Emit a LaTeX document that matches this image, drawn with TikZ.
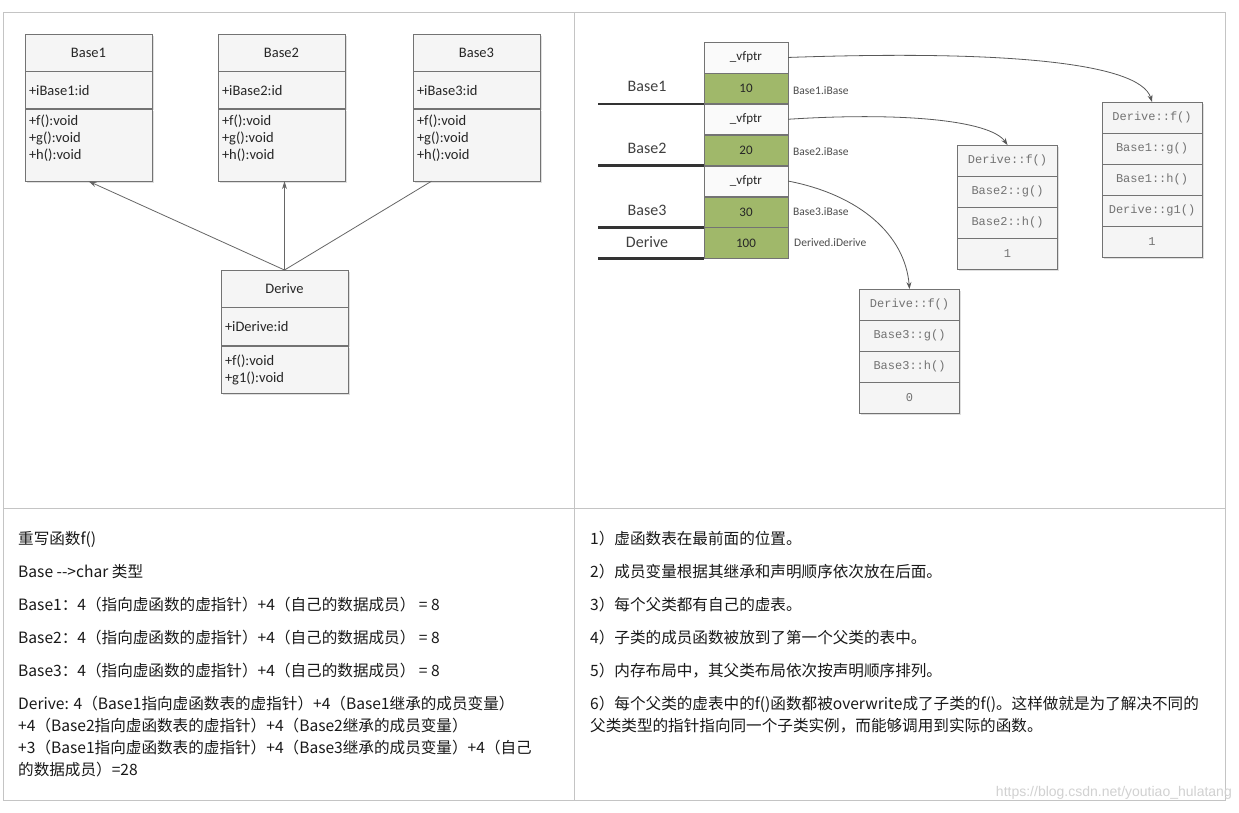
\documentclass[tikz,border=0pt]{standalone}
\usepackage{fontspec}
\setmainfont{Carlito}
\newfontfamily\cjk{Noto Sans CJK SC}
\newfontfamily\mono{Liberation Mono}
\newfontfamily\wmark{Liberation Sans}
\usetikzlibrary{arrows.meta,shadows}

\definecolor{fieldgreen}{RGB}{160,184,106}
\definecolor{rulegray}{RGB}{196,196,196}

\tikzset{
	box/.style={draw=black!55, fill=black!4, minimum width=127pt, anchor=north,
		inner sep=4pt, text=black!85, font=\fontsize{14.5}{17}\selectfont,
		drop shadow={shadow xshift=1.5pt, shadow yshift=-1.5pt, opacity=0.25}},
	boxtext/.style={box, text width=119pt, align=left},
	cell/.style={draw=black!55, minimum width=84pt, minimum height=30.5pt,
		anchor=north, inner sep=0pt, text=black!85, font=\fontsize{13}{15}\selectfont},
	ptrcell/.style={cell, fill=black!2},
	fieldcell/.style={cell, fill=fieldgreen},
	objname/.style={text=black!75, inner sep=0pt, font=\fontsize{16}{18}\selectfont},
	member/.style={anchor=west, inner sep=0pt, text=black!70, font=\fontsize{11.5}{13}\selectfont},
	vrow/.style={draw=black!55, fill=black!4, minimum width=100pt, minimum height=31pt,
		anchor=north, inner sep=0pt, text=black!55, font=\mono\fontsize{12}{14}\selectfont,
		drop shadow={shadow xshift=1.5pt, shadow yshift=-1.5pt, opacity=0.25}},
	inherit/.style={draw=black!60, line width=0.8pt, -{Stealth[length=8pt,width=5pt]}},
	vptr/.style={draw=black!65, line width=0.8pt, -{Stealth[length=7pt,width=5pt]}},
	bound/.style={draw=black!80, line width=2.5pt},
	rule/.style={draw=rulegray, line width=1pt},
	note/.style={anchor=west, inner sep=0pt, text height=12pt, text depth=3.5pt,
		text=black!90, font=\cjk\fontsize{15.6}{22}\selectfont}
}

\begin{document}
\begin{tikzpicture}[x=1pt,y=-1pt]
	\useasboundingbox (0,0) rectangle (1239,812);
	\draw[fill=white, draw=none] (0,0) rectangle (1239,812);

	% table frame
	\draw[rule] (3,12) rectangle (1225,800);
	\draw[rule] (574,12) -- (574,800);
	\draw[rule] (3,508) -- (1225,508);

	% class diagram
	\node[box, minimum height=37pt] (b1h) at (88.5,34) {Base1};
	\node[boxtext, minimum height=37pt] (b1a) at (b1h.south) {+iBase1:id};
	\node[boxtext, minimum height=72pt, text depth=50pt] (b1m) at (b1a.south) {+f():void\\+g():void\\+h():void};

	\node[box, minimum height=37pt] (b2h) at (281.5,34) {Base2};
	\node[boxtext, minimum height=37pt] (b2a) at (b2h.south) {+iBase2:id};
	\node[boxtext, minimum height=72pt, text depth=50pt] (b2m) at (b2a.south) {+f():void\\+g():void\\+h():void};

	\node[box, minimum height=37pt] (b3h) at (476.5,34) {Base3};
	\node[boxtext, minimum height=37pt] (b3a) at (b3h.south) {+iBase3:id};
	\node[boxtext, minimum height=72pt, text depth=50pt] (b3m) at (b3a.south) {+f():void\\+g():void\\+h():void};

	\node[box, minimum height=37pt] (dh) at (284.5,270) {Derive};
	\node[boxtext, minimum height=38pt] (da) at (dh.south) {+iDerive:id};
	\node[boxtext, minimum height=47pt] (dm) at (da.south) {+f():void\\+g1():void};

	\draw[inherit] (dh.north) -- (b1m.south);
	\draw[inherit] (dh.north) -- (dh.north |- b2m.south);
	\draw[draw=black!60, line width=0.8pt] (dh.north) -- ([xshift=-45pt]b3m.south);

	% memory layout
	\node[ptrcell] (p1) at (746,42) {\_vfptr};
	\node[fieldcell] (f1) at (p1.south) {10};
	\node[ptrcell] (p2) at (f1.south) {\_vfptr};
	\node[fieldcell] (f2) at (p2.south) {20};
	\node[ptrcell] (p3) at (f2.south) {\_vfptr};
	\node[fieldcell] (f3) at (p3.south) {30};
	\node[fieldcell] (f4) at (f3.south) {100};

	\draw[bound] (f1.south west) -- ++(-106,0);
	\draw[bound] (f2.south west) -- ++(-106,0);
	\draw[bound] (f3.south west) -- ++(-106,0);
	\draw[bound] (f4.south west) -- ++(-106,0);

	\node[objname] (n1) at (647,86) {Base1};
	\node[objname] (n2) at (647,148) {Base2};
	\node[objname] (n3) at (647,210) {Base3};
	\node[objname] (n4) at (647,242) {Derive};

	\node[member] (m1) at (793,91) {Base1.iBase};
	\node[member] (m2) at (793,152) {Base2.iBase};
	\node[member] (m3) at (793,212) {Base3.iBase};
	\node[member] (m4) at (794,243) {Derived.iDerive};

	% virtual tables
	\foreach \t [count=\i] in {Derive::f(),Base1::g(),Base1::h(),Derive::g1(),1}
		\node[vrow] (ta\i) at (1152,{102+31*(\i-1)}) {\t};
	\foreach \t [count=\i] in {Derive::f(),Base2::g(),Base2::h(),1}
		\node[vrow] (tb\i) at (1007.5,{145+31*(\i-1)}) {\t};
	\foreach \t [count=\i] in {Derive::f(),Base3::g(),Base3::h(),0}
		\node[vrow] (tc\i) at (909.5,{289+31*(\i-1)}) {\t};

	\draw[vptr] (p1.east) .. controls (1000,50) and (1140,62) .. (ta1.north);
	\draw[vptr] (p2.east) .. controls (900,112) and (990,120) .. (tb1.north);
	\draw[vptr] (p3.east) .. controls (860,195) and (905,235) .. (tc1.north);

	% notes, left
	\node[note] (l1) at (18,540) {重写函数f()};
	\node[note] (l2) at (18,573) {Base -\kern0pt-\kern0pt>char 类型};
	\node[note] (l3) at (18,606) {Base1：4（指向虚函数的虚指针）+4（自己的数据成员） = 8};
	\node[note] (l4) at (18,639) {Base2：4（指向虚函数的虚指针）+4（自己的数据成员） = 8};
	\node[note] (l5) at (18,672) {Base3：4（指向虚函数的虚指针）+4（自己的数据成员） = 8};
	\node[note] (l6) at (18,705) {Derive: 4（Base1指向虚函数表的虚指针）+4（Base1继承的成员变量）};
	\node[note] (l7) at (18,727) {+4（Base2指向虚函数表的虚指针）+4（Base2继承的成员变量）};
	\node[note] (l8) at (18,749) {+3（Base1指向虚函数表的虚指针）+4（Base3继承的成员变量）+4（自己};
	\node[note] (l9) at (18,771) {的数据成员）=28};

	% notes, right
	\node[note] (r1) at (590,540) {1）虚函数表在最前面的位置。};
	\node[note] (r2) at (590,573) {2）成员变量根据其继承和声明顺序依次放在后面。};
	\node[note] (r3) at (590,606) {3）每个父类都有自己的虚表。};
	\node[note] (r4) at (590,639) {4）子类的成员函数被放到了第一个父类的表中。};
	\node[note] (r5) at (590,672) {5）内存布局中，其父类布局依次按声明顺序排列。};
	\node[note] (r6) at (590,705) {6）每个父类的虚表中的f()函数都被overwrite成了子类的f()。这样做就是为了解决不同的};
	\node[note] (r7) at (590,727) {父类类型的指针指向同一个子类实例，而能够调用到实际的函数。};

	\node[anchor=east, inner sep=0pt, text=black!18, font=\wmark\fontsize{14}{16}\selectfont] (wm) at (1232,793) {https://blog.csdn.net/youtiao\_hulatang};
\end{tikzpicture}
\end{document}
